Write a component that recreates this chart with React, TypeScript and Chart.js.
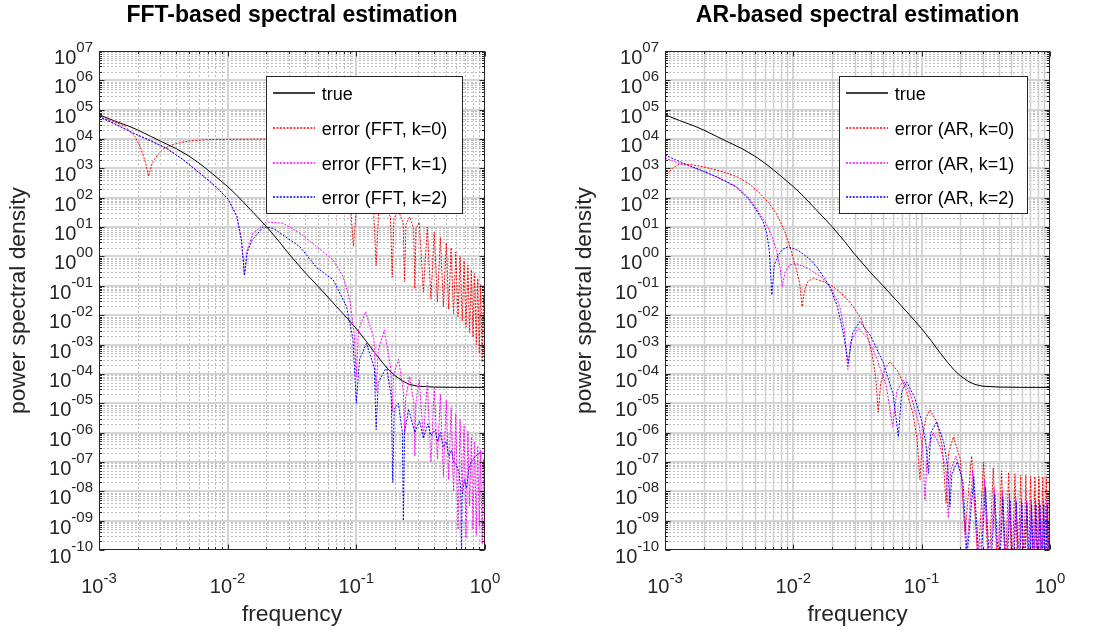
import React, { useEffect, useRef } from "react";
import { Chart, registerables } from "chart.js";

Chart.register(...registerables);

const FONT = '"Liberation Sans", Arial, Helvetica, sans-serif';
const TEXT = "#262626";

// ---- axes (decades) ----
const X_TICK_EXPONENTS = [-3, -2, -1, 0];
const Y_TICK_EXPONENTS = [7, 6, 5, 4, 3, 2, 1, 0, -1, -2, -3, -4, -5, -6, -7, -8, -9, -10];
const X_LABEL = "frequency";
const Y_LABEL = "power spectral density";

// ---- data: [frequency, log10(power spectral density)] ----
const TRUE_PSD: [number, number][] = [
  [0.001, 4.83], [0.0013, 4.63], [0.0017, 4.44], [0.002, 4.31], [0.0025, 4.1], [0.003, 3.93],
  [0.004, 3.67], [0.005, 3.42], [0.006, 3.18], [0.007, 2.95], [0.008, 2.74], [0.01, 2.38],
  [0.012, 2.05], [0.015, 1.6], [0.02, 1.02], [0.025, 0.52], [0.03, 0.08], [0.04, -0.55],
  [0.05, -1.0], [0.06, -1.38], [0.07, -1.7], [0.08, -1.98], [0.09, -2.23], [0.1, -2.46],
  [0.12, -2.9], [0.14, -3.3], [0.16, -3.62], [0.18, -3.88], [0.2, -4.06], [0.23, -4.25],
  [0.26, -4.36], [0.3, -4.42], [0.4, -4.45], [0.6, -4.46], [1.0, -4.46],
];

const FFT_K0: [number, number][] = [
  [0.001, 4.76], [0.0013, 4.6], [0.0016, 4.43], [0.0019, 4.09], [0.0021, 3.72], [0.0023, 3.2],
  [0.00243, 2.73], [0.0026, 3.2], [0.0029, 3.5], [0.0032, 3.68], [0.0038, 3.82], [0.0045, 3.9],
  [0.0055, 3.95], [0.007, 3.98], [0.01, 3.99], [0.02, 4.0], [0.035, 4.0], [0.0475, 2.8],
  [0.07, 2.5], [0.089, 2.0], [0.095, 0.35], [0.101, 1.9], [0.118, 2.1], [0.136, 1.6],
  [0.1425, -0.3], [0.149, 1.5], [0.166, 1.75], [0.184, 1.35], [0.19, -0.7], [0.196, 1.3],
  [0.213, 1.55], [0.231, 1.15], [0.237, -0.86], [0.243, 1.1], [0.26, 1.35], [0.279, 0.95],
  [0.285, -1.1], [0.291, 0.95], [0.308, 1.17], [0.332, -1.2], [0.356, 1.0], [0.38, -1.45],
  [0.403, 0.82], [0.427, -1.55], [0.45, 0.65], [0.475, -1.72], [0.5, 0.47], [0.522, -1.8],
  [0.545, 0.3], [0.57, -1.95], [0.593, 0.15], [0.617, -2.05], [0.64, 0.0], [0.665, -2.2],
  [0.688, -0.15], [0.712, -2.4], [0.736, -0.3], [0.76, -2.6], [0.783, -0.45], [0.807, -2.75],
  [0.83, -0.58], [0.855, -3.0], [0.878, -0.75], [0.902, -3.3], [0.926, -0.95], [0.95, -3.6],
  [0.973, -1.3], [0.997, -4.1], [1.0, -3.5],
];

const FFT_K1: [number, number][] = [
  [0.001, 4.76], [0.00135, 4.5], [0.00185, 4.2], [0.0025, 3.95], [0.00336, 3.68], [0.0045, 3.3],
  [0.0061, 2.83], [0.008, 2.4], [0.0101, 1.95], [0.0118, 1.36], [0.0128, 0.56], [0.0135, -0.65],
  [0.0142, 0.25], [0.0158, 0.79], [0.0201, 1.18], [0.027, 1.13], [0.0365, 0.79], [0.0492, 0.33],
  [0.0662, -0.12], [0.079, -0.69], [0.089, -1.48], [0.096, -2.6], [0.1, -4.1], [0.104, -2.5],
  [0.118, -1.88], [0.137, -2.8], [0.1425, -4.6], [0.148, -3.2], [0.165, -2.5], [0.185, -3.8],
  [0.19, -5.3], [0.195, -4.0], [0.213, -3.5], [0.232, -4.6], [0.237, -6.0], [0.242, -4.8],
  [0.26, -4.1], [0.28, -5.0], [0.285, -6.8], [0.29, -5.0], [0.308, -4.2], [0.332, -6.2],
  [0.356, -4.3], [0.38, -7.0], [0.403, -4.5], [0.427, -6.9], [0.45, -4.7], [0.475, -7.5],
  [0.5, -4.9], [0.522, -7.6], [0.545, -5.15], [0.57, -8.0], [0.593, -5.35], [0.617, -9.3],
  [0.64, -5.55], [0.665, -8.0], [0.688, -5.75], [0.712, -9.6], [0.736, -5.95], [0.76, -8.5],
  [0.783, -6.15], [0.807, -9.3], [0.83, -6.3], [0.855, -9.5], [0.878, -6.45], [0.902, -9.2],
  [0.926, -6.6], [0.95, -9.8], [0.973, -6.9], [0.997, -10.3], [1.0, -9.0],
];

const FFT_K2: [number, number][] = [
  [0.001, 4.76], [0.00135, 4.5], [0.00185, 4.2], [0.0025, 3.95], [0.00336, 3.68], [0.0045, 3.3],
  [0.0061, 2.83], [0.008, 2.4], [0.0101, 1.95], [0.0118, 1.36], [0.0128, 0.56], [0.0135, -0.65],
  [0.0142, 0.15], [0.0155, 0.56], [0.0189, 1.01], [0.0226, 0.96], [0.0365, 0.33], [0.0492, -0.38],
  [0.0662, -0.8], [0.084, -1.71], [0.094, -2.8], [0.1, -5.0], [0.106, -3.5], [0.12, -2.96],
  [0.138, -3.8], [0.1425, -5.9], [0.148, -4.3], [0.172, -3.76], [0.187, -4.8], [0.192, -7.7],
  [0.197, -5.2], [0.212, -5.0], [0.228, -6.0], [0.232, -9.0], [0.237, -6.0], [0.255, -5.2],
  [0.285, -6.0], [0.31, -5.6], [0.332, -6.2], [0.36, -5.7], [0.38, -6.1], [0.41, -5.9],
  [0.427, -6.3], [0.45, -6.0], [0.475, -6.5], [0.5, -6.3], [0.522, -6.8], [0.55, -6.6],
  [0.57, -7.0], [0.6, -7.1], [0.63, -7.4], [0.65, -8.0], [0.657, -10.5], [0.664, -8.2],
  [0.69, -7.6], [0.72, -7.9], [0.75, -7.2], [0.78, -7.0], [0.81, -6.9], [0.85, -6.8],
  [0.9, -6.7], [0.95, -6.7], [1.0, -6.6],
];

const AR_K0: [number, number][] = [
  [0.001, 2.72], [0.00115, 3.02], [0.0013, 3.15], [0.0016, 3.13], [0.002, 3.05], [0.0025, 2.95],
  [0.003, 2.85], [0.0037, 2.7], [0.0046, 2.45], [0.0055, 2.15], [0.0065, 1.8], [0.0074, 1.45],
  [0.0085, 0.9], [0.0094, 0.33], [0.0105, -0.4], [0.0112, -0.9], [0.0117, -1.71], [0.0123, -1.1],
  [0.013, -0.85], [0.0143, -0.74], [0.017, -0.85], [0.0205, -1.03], [0.025, -1.35], [0.0293, -1.71],
  [0.0335, -2.1], [0.0373, -2.62], [0.041, -3.3], [0.0438, -4.1], [0.0459, -5.3], [0.048, -4.3],
  [0.052, -3.8], [0.0566, -3.59], [0.065, -3.9], [0.075, -4.5], [0.085, -5.3], [0.092, -6.2],
  [0.097, -7.6], [0.102, -6.1], [0.108, -5.5], [0.116, -5.23], [0.13, -5.6], [0.145, -6.5],
  [0.155, -8.4], [0.162, -6.7], [0.177, -6.14], [0.2, -6.9], [0.218, -9.4], [0.245, -6.8],
  [0.275, -10.5], [0.304, -7.0], [0.333, -11], [0.361, -7.2], [0.39, -11], [0.419, -7.3],
  [0.448, -11], [0.476, -7.35], [0.505, -11], [0.533, -7.4], [0.562, -11], [0.591, -7.45],
  [0.62, -11], [0.648, -7.45], [0.677, -11], [0.706, -7.5], [0.735, -11], [0.763, -7.5],
  [0.792, -11], [0.82, -7.5], [0.85, -11], [0.878, -7.5], [0.907, -11], [0.935, -7.5],
  [0.965, -11], [0.99, -7.5], [1.0, -7.6],
];

const AR_K1: [number, number][] = [
  [0.001, 3.35], [0.0012, 3.22], [0.0015, 3.1], [0.002, 2.9], [0.0025, 2.72], [0.003, 2.56],
  [0.0036, 2.38], [0.0045, 2.0], [0.0052, 1.6], [0.006, 1.2], [0.0068, 0.7], [0.0074, 0.2],
  [0.0079, -0.4], [0.0082, -1.03], [0.0086, -0.55], [0.0093, -0.3], [0.0103, -0.23], [0.013, -0.4],
  [0.0165, -0.7], [0.02, -1.14], [0.023, -1.7], [0.025, -2.5], [0.0266, -3.85], [0.028, -2.9],
  [0.032, -2.45], [0.038, -2.8], [0.045, -3.5], [0.053, -4.4], [0.0594, -5.8], [0.064, -4.6],
  [0.072, -4.21], [0.082, -4.7], [0.095, -5.7], [0.102, -6.6], [0.106, -8.3], [0.111, -6.6],
  [0.123, -6.0], [0.14, -6.5], [0.155, -7.3], [0.161, -8.9], [0.168, -7.3], [0.185, -6.8],
  [0.205, -7.5], [0.222, -10.3], [0.25, -7.3], [0.28, -11], [0.309, -7.6], [0.338, -11],
  [0.367, -7.9], [0.396, -11], [0.425, -8.0], [0.454, -11], [0.483, -8.1], [0.512, -11],
  [0.541, -8.2], [0.57, -11], [0.599, -8.25], [0.628, -11], [0.657, -8.3], [0.686, -11],
  [0.715, -8.3], [0.744, -11], [0.773, -8.3], [0.802, -11], [0.831, -8.3], [0.86, -11],
  [0.889, -8.3], [0.918, -11], [0.947, -8.3], [0.976, -11], [1.0, -8.3],
];

const AR_K2: [number, number][] = [
  [0.001, 3.46], [0.0012, 3.3], [0.0015, 3.12], [0.002, 2.9], [0.0025, 2.72], [0.003, 2.55],
  [0.0036, 2.36], [0.0045, 1.95], [0.0052, 1.55], [0.0058, 1.2], [0.0062, 0.8], [0.0065, 0.2],
  [0.0068, -1.31], [0.0071, -0.3], [0.0076, 0.05], [0.0083, 0.25], [0.0091, 0.33], [0.011, 0.2],
  [0.0135, -0.1], [0.0152, -0.35], [0.0175, -0.75], [0.0193, -1.03], [0.022, -1.7], [0.0245, -2.6],
  [0.0268, -3.64], [0.029, -2.6], [0.033, -2.22], [0.04, -2.7], [0.05, -3.6], [0.06, -4.7],
  [0.0658, -6.14], [0.07, -4.6], [0.0764, -4.27], [0.088, -4.8], [0.1, -5.6], [0.108, -6.4],
  [0.1127, -7.39], [0.118, -6.0], [0.131, -5.63], [0.148, -6.3], [0.16, -7.2], [0.166, -8.53],
  [0.172, -7.4], [0.19, -7.0], [0.21, -7.7], [0.226, -10.2], [0.255, -7.5], [0.285, -11],
  [0.314, -7.85], [0.343, -11], [0.372, -8.1], [0.401, -11], [0.43, -8.2], [0.459, -11],
  [0.488, -8.3], [0.517, -11], [0.546, -8.35], [0.575, -11], [0.604, -8.4], [0.633, -11],
  [0.662, -8.4], [0.691, -11], [0.72, -8.45], [0.749, -11], [0.778, -8.45], [0.807, -11],
  [0.836, -8.45], [0.865, -11], [0.894, -8.45], [0.923, -11], [0.952, -8.45], [0.981, -11],
  [1.0, -8.45],
];

// ---- layout ----
const CANVAS_H = 632;
const AREA_TOP = 51;
const AREA_BOTTOM = 550;
const DOTTED = [2, 1.4];

type Series = { label: string; color: string; dash: number[]; data: [number, number][] };
type Panel = {
  title: string;
  canvasLeft: number;
  canvasWidth: number;
  areaLeft: number;
  areaRight: number;
  legend: { left: number; top: number; width: number; height: number };
  minorXSolid: boolean;
  series: Series[];
};

const PANELS: Panel[] = [
  {
    title: "FFT-based spectral estimation",
    canvasLeft: 0,
    canvasWidth: 550,
    areaLeft: 99,
    areaRight: 485,
    legend: { left: 266, top: 76, width: 196, height: 137 },
    minorXSolid: false,
    series: [
      { label: "true", color: "rgb(0,0,0)", dash: [], data: TRUE_PSD },
      { label: "error (FFT, k=0)", color: "rgb(255,0,0)", dash: DOTTED, data: FFT_K0 },
      { label: "error (FFT, k=1)", color: "rgb(255,0,255)", dash: DOTTED, data: FFT_K1 },
      { label: "error (FFT, k=2)", color: "rgb(0,0,255)", dash: DOTTED, data: FFT_K2 },
    ],
  },
  {
    title: "AR-based spectral estimation",
    canvasLeft: 550,
    canvasWidth: 551,
    areaLeft: 115,
    areaRight: 500,
    legend: { left: 289, top: 76, width: 188, height: 137 },
    minorXSolid: true,
    series: [
      { label: "true", color: "rgb(0,0,0)", dash: [], data: TRUE_PSD },
      { label: "error (AR, k=0)", color: "rgb(255,0,0)", dash: DOTTED, data: AR_K0 },
      { label: "error (AR, k=1)", color: "rgb(255,0,255)", dash: DOTTED, data: AR_K1 },
      { label: "error (AR, k=2)", color: "rgb(0,0,255)", dash: DOTTED, data: AR_K2 },
    ],
  },
];

function makeDecor(panel: Panel) {
  const hline = (ctx: CanvasRenderingContext2D, x0: number, x1: number, y: number) => {
    ctx.beginPath();
    ctx.moveTo(x0, y);
    ctx.lineTo(x1, y);
    ctx.stroke();
  };
  const vline = (ctx: CanvasRenderingContext2D, x: number, y0: number, y1: number) => {
    ctx.beginPath();
    ctx.moveTo(x, y0);
    ctx.lineTo(x, y1);
    ctx.stroke();
  };
  const yMinorValues: number[] = [];
  for (let e = -10; e < 7; e++) for (let k = 2; k <= 9; k++) yMinorValues.push(k * Math.pow(10, e));
  const xMinorValues: number[] = [];
  for (let e = -3; e < 0; e++) for (let k = 2; k <= 9; k++) xMinorValues.push(k * Math.pow(10, e));

  return {
    id: "decor",
    beforeDatasetsDraw(chart: any) {
      const { ctx, chartArea: a } = chart;
      const xs = chart.scales.x;
      const ys = chart.scales.y;
      ctx.save();
      ctx.beginPath();
      ctx.rect(a.left, a.top, a.right - a.left, a.bottom - a.top);
      ctx.clip();
      // minor horizontal (dotted)
      ctx.lineWidth = 1;
      ctx.strokeStyle = "#bdbdbd";
      ctx.setLineDash([2, 2]);
      for (const v of yMinorValues) {
        const py = Math.round(ys.getPixelForValue(v)) + 0.5;
        hline(ctx, a.left, a.right, py);
      }
      // minor vertical
      if (panel.minorXSolid) {
        ctx.setLineDash([]);
        ctx.strokeStyle = "#cfcfcf";
        ctx.lineWidth = 1.5;
      }
      for (const v of xMinorValues) {
        const px = Math.round(xs.getPixelForValue(v)) + 0.5;
        vline(ctx, px, a.top, a.bottom);
      }
      // major lines
      ctx.setLineDash([]);
      ctx.strokeStyle = "#d4d4d4";
      ctx.lineWidth = 2;
      for (const e of Y_TICK_EXPONENTS) {
        const py = Math.round(ys.getPixelForValue(Math.pow(10, e)));
        hline(ctx, a.left, a.right, py);
      }
      for (const e of X_TICK_EXPONENTS) {
        const px = Math.round(xs.getPixelForValue(Math.pow(10, e)));
        vline(ctx, px, a.top, a.bottom);
      }
      ctx.restore();
    },
    afterDatasetsDraw(chart: any) {
      const { ctx, chartArea: a } = chart;
      const xs = chart.scales.x;
      const ys = chart.scales.y;
      ctx.save();
      ctx.strokeStyle = TEXT;
      ctx.lineWidth = 1;
      ctx.setLineDash([]);
      // tick marks (inward, all four sides)
      const L = Math.round(a.left) + 0.5;
      const R = Math.round(a.right) - 0.5;
      const T = Math.round(a.top) + 0.5;
      const B = Math.round(a.bottom) - 0.5;
      for (const e of Y_TICK_EXPONENTS) {
        const py = Math.round(ys.getPixelForValue(Math.pow(10, e))) + 0.5;
        hline(ctx, L, L + 5, py);
        hline(ctx, R - 5, R, py);
      }
      for (const v of yMinorValues) {
        const py = Math.round(ys.getPixelForValue(v)) + 0.5;
        hline(ctx, L, L + 2.5, py);
        hline(ctx, R - 2.5, R, py);
      }
      for (const e of X_TICK_EXPONENTS) {
        const px = Math.round(xs.getPixelForValue(Math.pow(10, e))) + 0.5;
        vline(ctx, px, B, B - 5);
        vline(ctx, px, T, T + 5);
      }
      for (const v of xMinorValues) {
        const px = Math.round(xs.getPixelForValue(v)) + 0.5;
        vline(ctx, px, B, B - 2.5);
        vline(ctx, px, T, T + 2.5);
      }
      // box
      ctx.strokeRect(L, T, R - L, B - T);
      ctx.restore();

      // legend
      const lg = panel.legend;
      ctx.save();
      ctx.fillStyle = "#ffffff";
      ctx.fillRect(lg.left, lg.top, lg.width, lg.height);
      ctx.strokeStyle = TEXT;
      ctx.lineWidth = 1;
      ctx.setLineDash([]);
      ctx.strokeRect(lg.left + 0.5, lg.top + 0.5, lg.width, lg.height);
      const rowOffsets = [17.3, 52.1, 86.5, 120.7];
      for (let i = 0; i < panel.series.length; i++) {
        const s = panel.series[i];
        const cy = Math.round(lg.top + rowOffsets[i]);
        ctx.save();
        ctx.strokeStyle = s.color;
        ctx.lineWidth = 1.3;
        ctx.setLineDash(s.dash.slice());
        ctx.beginPath();
        ctx.moveTo(lg.left + 7, cy);
        ctx.lineTo(lg.left + 49, cy);
        ctx.stroke();
        ctx.restore();
        ctx.fillStyle = "#000000";
        ctx.font = `18px ${FONT}`;
        ctx.textAlign = "left";
        ctx.textBaseline = "alphabetic";
        ctx.fillText(s.label, lg.left + 55.7, cy + 7);
      }
      ctx.restore();
    },
    afterDraw(chart: any) {
      const { ctx, chartArea: a } = chart;
      const xs = chart.scales.x;
      const ys = chart.scales.y;
      ctx.save();
      ctx.fillStyle = TEXT;
      ctx.textAlign = "left";
      ctx.textBaseline = "alphabetic";
      const baseFont = `20px ${FONT}`;
      const expFont = `15px ${FONT}`;
      // y tick labels
      for (const e of Y_TICK_EXPONENTS) {
        const py = ys.getPixelForValue(Math.pow(10, e));
        const exp = (e < 0 ? "-" : "") + String(Math.abs(e)).padStart(2, "0");
        ctx.font = expFont;
        const wE = ctx.measureText(exp).width;
        ctx.font = baseFont;
        const wB = ctx.measureText("10").width;
        const right = a.left - 6;
        ctx.fillText("10", right - wE - wB, py + 13);
        ctx.font = expFont;
        ctx.fillText(exp, right - wE, py + 1);
      }
      // x tick labels
      for (const e of X_TICK_EXPONENTS) {
        const px = xs.getPixelForValue(Math.pow(10, e));
        const exp = String(e);
        ctx.font = expFont;
        const wE = ctx.measureText(exp).width;
        ctx.font = baseFont;
        const wB = ctx.measureText("10").width;
        const x0 = px - (wB + wE) / 2;
        ctx.fillText("10", x0, a.bottom + 43);
        ctx.font = expFont;
        ctx.fillText(exp, x0 + wB, a.bottom + 33);
      }
      // axis titles
      const cx = (a.left + a.right) / 2;
      const cy = (a.top + a.bottom) / 2;
      ctx.font = `22.8px ${FONT}`;
      ctx.textAlign = "center";
      ctx.fillText(X_LABEL, cx, 621);
      ctx.save();
      ctx.translate(a.left - 74, cy);
      ctx.rotate(-Math.PI / 2);
      ctx.fillText(Y_LABEL, 0, 0);
      ctx.restore();
      // title
      ctx.fillStyle = "#000000";
      ctx.font = `bold 23px ${FONT}`;
      ctx.fillText(panel.title, cx, 22);
      ctx.restore();
    },
  };
}

function PanelChart({ panel }: { panel: Panel }) {
  const ref = useRef<HTMLCanvasElement | null>(null);
  useEffect(() => {
    const canvas = ref.current;
    if (!canvas) return;
    const n = panel.series.length;
    const chart = new Chart(canvas, {
      type: "line",
      data: {
        datasets: panel.series.map((s, i) => ({
          label: s.label,
          data: s.data.map(([f, lg]) => ({ x: f, y: Math.pow(10, lg) })),
          borderColor: s.color,
          backgroundColor: s.color,
          borderWidth: 1,
          borderDash: s.dash,
          pointRadius: 0,
          fill: false,
          tension: 0,
          order: n - i,
        })),
      },
      options: {
        animation: false,
        responsive: false,
        maintainAspectRatio: false,
        devicePixelRatio: 1,
        events: [],
        layout: {
          padding: { left: 0, top: AREA_TOP, right: panel.canvasWidth - panel.areaRight, bottom: 0 },
        },
        scales: {
          x: {
            type: "logarithmic",
            min: 1e-3,
            max: 1,
            ticks: { display: false },
            grid: { display: false },
            border: { display: false },
            afterFit: (s: any) => {
              s.height = CANVAS_H - AREA_BOTTOM;
            },
          },
          y: {
            type: "logarithmic",
            min: 1e-10,
            max: 1e7,
            ticks: { display: false },
            grid: { display: false },
            border: { display: false },
            afterFit: (s: any) => {
              s.width = panel.areaLeft;
            },
          },
        },
        plugins: {
          legend: { display: false },
          tooltip: { enabled: false },
          title: { display: false },
        },
      } as any,
      plugins: [makeDecor(panel) as any],
    });
    return () => chart.destroy();
  }, [panel]);
  return (
    <canvas
      ref={ref}
      width={panel.canvasWidth}
      height={CANVAS_H}
      style={{
        position: "absolute",
        left: panel.canvasLeft,
        top: 0,
        width: panel.canvasWidth,
        height: CANVAS_H,
      }}
    />
  );
}

export default function App() {
  return (
    <div
      style={{
        position: "absolute",
        left: 0,
        top: 0,
        width: 1101,
        height: 632,
        background: "#ffffff",
        overflow: "hidden",
      }}
    >
      {PANELS.map((p) => (
        <PanelChart key={p.title} panel={p} />
      ))}
    </div>
  );
}
